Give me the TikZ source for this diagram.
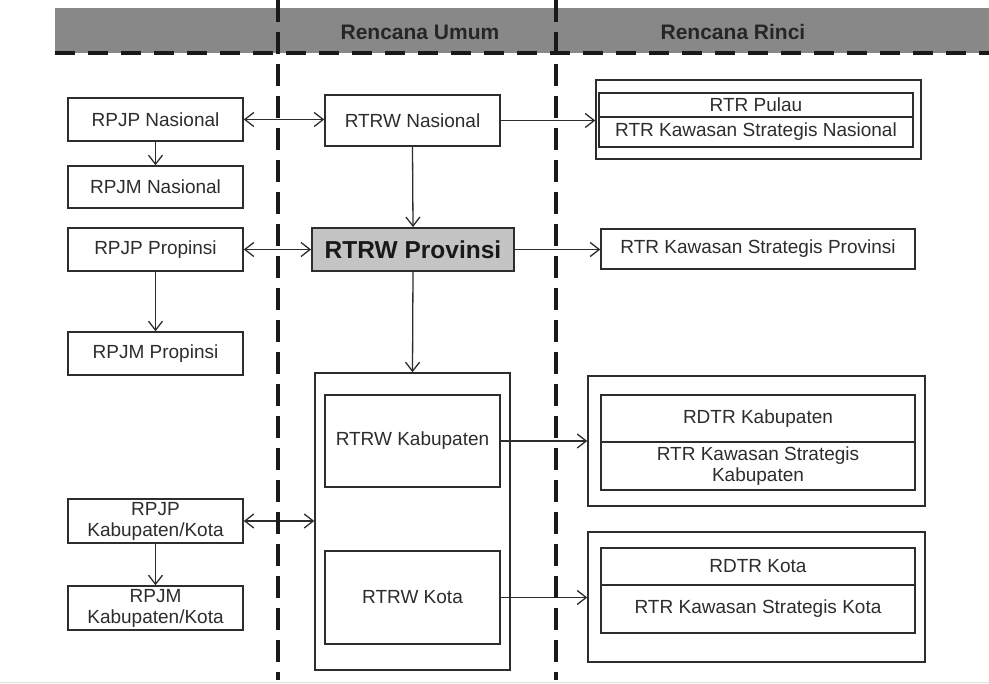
\documentclass[tikz,border=0pt]{standalone}
\usepackage{fontspec}
\setmainfont{Liberation Sans}
\usetikzlibrary{arrows.meta}
\definecolor{bandgray}{RGB}{136,136,136}
\definecolor{provgray}{RGB}{196,196,196}
\definecolor{ink}{RGB}{45,45,45}
\begin{document}
\begin{tikzpicture}[x=1pt,y=-1pt,
  box/.style={draw=ink,line width=1.5pt,fill=white,rectangle,inner sep=0pt,
    align=center,text=ink,font=\fontsize{19}{21}\selectfont},
  frame/.style={draw=ink,line width=1.5pt,rectangle,inner sep=0pt},
  conn/.style={draw=ink,line width=1.3pt,-{Straight Barb[length=9pt,width=14pt,line width=1.3pt]}},
  bconn/.style={draw=ink,line width=1.3pt,{Straight Barb[length=9pt,width=14pt,line width=1.3pt]}-{Straight Barb[length=9pt,width=14pt,line width=1.3pt]}},
  vdash/.style={draw=black!90,line width=3.2pt,dash pattern=on 22pt off 10pt},
  hdash/.style={draw=black!90,line width=3.6pt,dash pattern=on 20pt off 13pt},
  head/.style={font=\bfseries\fontsize{21}{24}\selectfont,text=black!85}]
\useasboundingbox (0,0) rectangle (989,684);
\fill[white] (0,0) rectangle (989,684);
% header band
\fill[bandgray] (55,8) rectangle (989,53);
\node[head] (hu) at (420,32) {Rencana Umum};
\node[head] (hr) at (733,32) {Rencana Rinci};
\draw[black!12,line width=1pt] (0,682) -- (989,682);

% left column
\node[box,minimum width=175pt,minimum height=43pt] (rpjpn) at (155.5,119.5) {RPJP Nasional};
\node[box,minimum width=175pt,minimum height=42pt] (rpjmn) at (155.5,187) {RPJM Nasional};
\node[box,minimum width=175pt,minimum height=43pt] (rpjpp) at (155.5,249.5) {RPJP Propinsi};
\node[box,minimum width=175pt,minimum height=43pt] (rpjmp) at (155.5,353.5) {RPJM Propinsi};
\node[box,minimum width=175pt,minimum height=44pt] (rpjpk) at (155.5,521) {RPJP\\Kabupaten/Kota};
\node[box,minimum width=175pt,minimum height=44pt] (rpjmk) at (155.5,608) {RPJM\\Kabupaten/Kota};

% middle column
\node[box,minimum width=175pt,minimum height=51pt] (rtrwn) at (412.5,120.5) {RTRW Nasional};
\node[box,fill=provgray,line width=1.8pt,minimum width=202pt,minimum height=43pt,
  font=\bfseries\fontsize{24.5}{27}\selectfont,text=black!90] (rtrwp) at (413,249.5) {RTRW Provinsi};
\node[frame,minimum width=195pt,minimum height=297pt] (big) at (412.5,521.5) {};
\node[box,minimum width=175pt,minimum height=92pt] (rtrwk) at (412.5,441) {RTRW Kabupaten};
\node[box,minimum width=175pt,minimum height=93pt] (rtrwkota) at (412.5,597.5) {RTRW Kota};

% right column
\node[frame,minimum width=325pt,minimum height=79pt] (pulau) at (758.5,119.5) {};
\node[box,minimum width=314pt,minimum height=24pt] (rtrp) at (756,105) {RTR Pulau};
\node[box,minimum width=314pt,minimum height=30pt] (ksn) at (756,132) {RTR Kawasan Strategis Nasional};
\node[box,minimum width=314pt,minimum height=40pt] (ksp) at (758,249) {RTR Kawasan Strategis Provinsi};
\node[frame,minimum width=337pt,minimum height=130pt] (kab) at (756.5,441) {};
\node[box,minimum width=314pt,minimum height=47pt] (rdtrk) at (758,418.5) {RDTR Kabupaten};
\node[box,minimum width=314pt,minimum height=48pt] (kskab) at (758,466) {RTR Kawasan Strategis\\Kabupaten};
\node[frame,minimum width=337pt,minimum height=130pt] (kota) at (756.5,597) {};
\node[box,minimum width=314pt,minimum height=37pt] (rdtrkota) at (758,566.5) {RDTR Kota};
\node[box,minimum width=314pt,minimum height=48pt] (kskota) at (758,609) {RTR Kawasan Strategis Kota};

% connectors
\draw[bconn] (rpjpn.east) -- (rpjpn.east -| rtrwn.west);
\draw[conn] (rtrwn.east) -- (rtrwn.east -| pulau.west);
\draw[conn] (rpjpn.south) -- (rpjmn.north);
\draw[conn] (rtrwn.south) -- (rtrwp.north);
\draw[bconn] (rpjpp.east) -- (rtrwp.west);
\draw[conn] (rtrwp.east) -- (rtrwp.east -| ksp.west);
\draw[conn] (rpjpp.south) -- (rpjmp.north);
\draw[conn] (rtrwp.south) -- (big.north);
\draw[bconn] (rpjpk.east) -- (rpjpk.east -| big.west);
\draw[conn] (rpjpk.south) -- (rpjmk.north);
\draw[conn] (rtrwk.east) -- (rtrwk.east -| kab.west);
\draw[conn] (rtrwkota.east) -- (rtrwkota.east -| kota.west);

% dashed separators
\coordinate (v1t) at (278,0); \coordinate (v1b) at (278,680);
\coordinate (v2t) at (556,0); \coordinate (v2b) at (556,680);
\coordinate (hl) at (55,53); \coordinate (hr2) at (989,53);
\draw[hdash] (hl) -- (hr2);
\draw[vdash] (v1t) -- (v1b);
\draw[vdash] (v2t) -- (v2b);
\end{tikzpicture}
\end{document}
